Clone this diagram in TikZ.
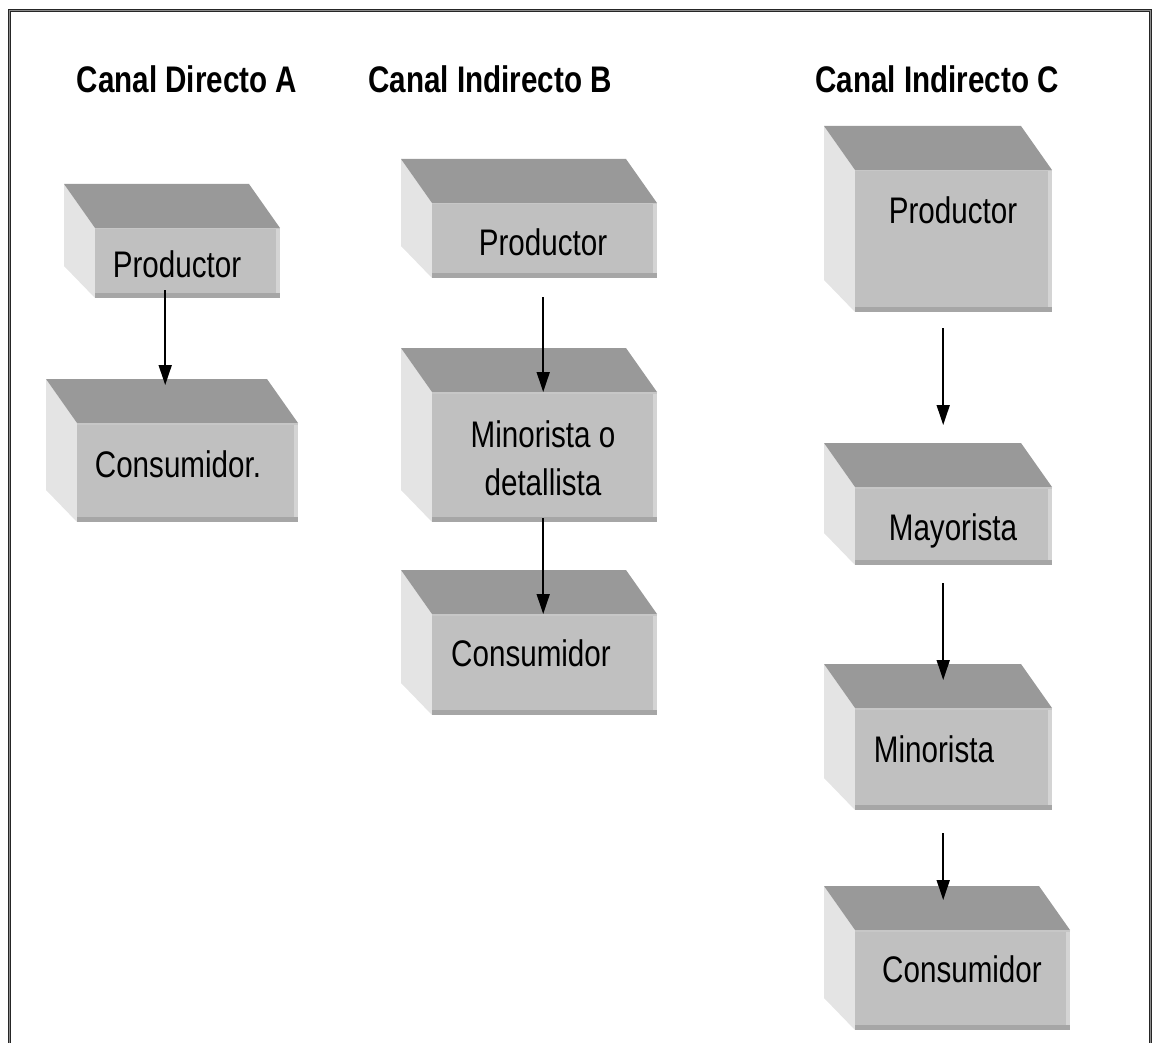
\documentclass[tikz,border=0pt]{standalone}
\usepackage{fontspec}
\setmainfont{Liberation Sans}[FakeStretch=0.8]
\usetikzlibrary{arrows.meta,calc}
\definecolor{topc}{HTML}{999999}
\definecolor{frontc}{HTML}{C0C0C0}
\definecolor{sidec}{HTML}{E4E4E4}
\definecolor{botc}{HTML}{A6A6A6}
\definecolor{rstrip}{HTML}{D4D4D4}
\tikzset{
  title/.style={anchor=base,inner sep=0pt,font=\fontsize{37}{40}\selectfont\bfseries},
  label/.style={anchor=base,inner sep=0pt,font=\fontsize{37}{48}\selectfont,align=center},
  arr/.style={line width=1.7pt,-{Triangle[length=20pt,width=13pt]}},
  frontface/.style={fill=frontc,draw=none,inner sep=0pt,anchor=north west},
}
% #1 name, #2 x1, #3 y1, #4 x2, #5 y2 (front face)
\newcommand\mycube[5]{%
  \fill[sidec] (#2-31,#3-44) -- (#2,#3) -- (#2,#5) -- (#2-31,#5-32) -- cycle;
  \fill[topc] (#2-31,#3-44) -- (#4-31,#3-44) -- (#4,#3) -- (#2,#3) -- cycle;
  \node[frontface,minimum width=#4-#2,minimum height=#5-#3] (#1) at (#2,#3) {};
  \fill[rstrip] (#4-4,#3) rectangle (#4,#5);
  \fill[botc] (#2,#5-5) rectangle (#4,#5);
  \fill[black!22] (#2,#3) rectangle (#4,#3+1.5);
}
\begin{document}
\begin{tikzpicture}[x=1pt,y=-1pt]
\useasboundingbox (0,0) rectangle (1154,1043);
\begin{scope}
\clip (0,0) rectangle (1154,1043);
\draw[draw=black!85,line width=0.9pt,double=black!45,double distance=1.3pt] (9.5,10.5) rectangle (1150.8,1080);
\end{scope}

% titles
\node[title] (tA) at (187,93) {Canal Directo A};
\node[title] (tB) at (490,93) {Canal Indirecto B};
\node[title] (tC) at (937,93) {Canal Indirecto C};

% Canal A
\mycube{aP}{95}{228}{280}{298}
\mycube{aC}{77}{423}{298}{522}
\node[label] (aPt) at (177,277) {Productor};
\node[label] (aCt) at (178,477) {Consumidor.};

% Canal B
\mycube{bP}{432}{203}{657}{278}
\mycube{bM}{432}{392}{657}{522}
\mycube{bC}{432}{614}{657}{715}
\node[label] (bPt) at (543,255) {Productor};
\node[label] (bMt1) at (543,447) {Minorista o};
\node[label] (bMt2) at (543,495) {detallista};
\node[label] (bCt) at (531,666) {Consumidor};

% Canal C
\mycube{cP}{855}{170}{1052}{312}
\mycube{cMy}{855}{487}{1052}{565}
\mycube{cMi}{855}{708}{1052}{810}
\mycube{cC}{855}{930}{1070}{1030}
\node[label] (cPt) at (953,224) {Productor};
\node[label] (cMyt) at (953,540) {Mayorista};
\node[label] (cMit) at (934,762) {Minorista};
\node[label] (cCt) at (962,982) {Consumidor};

% arrows
\draw[arr] ([xshift=-22.5pt,yshift=8pt]aP.south) -- ([xshift=-22.5pt,yshift=38pt]aC.north);
\draw[arr] ([xshift=-1.5pt,yshift=-19pt]bP.south) -- ([xshift=-1.5pt]bM.north);
\draw[arr] ([xshift=-1.5pt,yshift=4pt]bM.south) -- ([xshift=-1.5pt]bC.north);
\draw[arr] ([xshift=-10.5pt,yshift=-16pt]cP.south) -- ([xshift=-10.5pt,yshift=62pt]cMy.north);
\draw[arr] ([xshift=-10.5pt,yshift=-18pt]cMy.south) -- ([xshift=-10.5pt,yshift=28pt]cMi.north);
\draw[arr] ([xshift=-10.5pt,yshift=-23pt]cMi.south) -- ([xshift=-19.5pt,yshift=30pt]cC.north);
\end{tikzpicture}
\end{document}
